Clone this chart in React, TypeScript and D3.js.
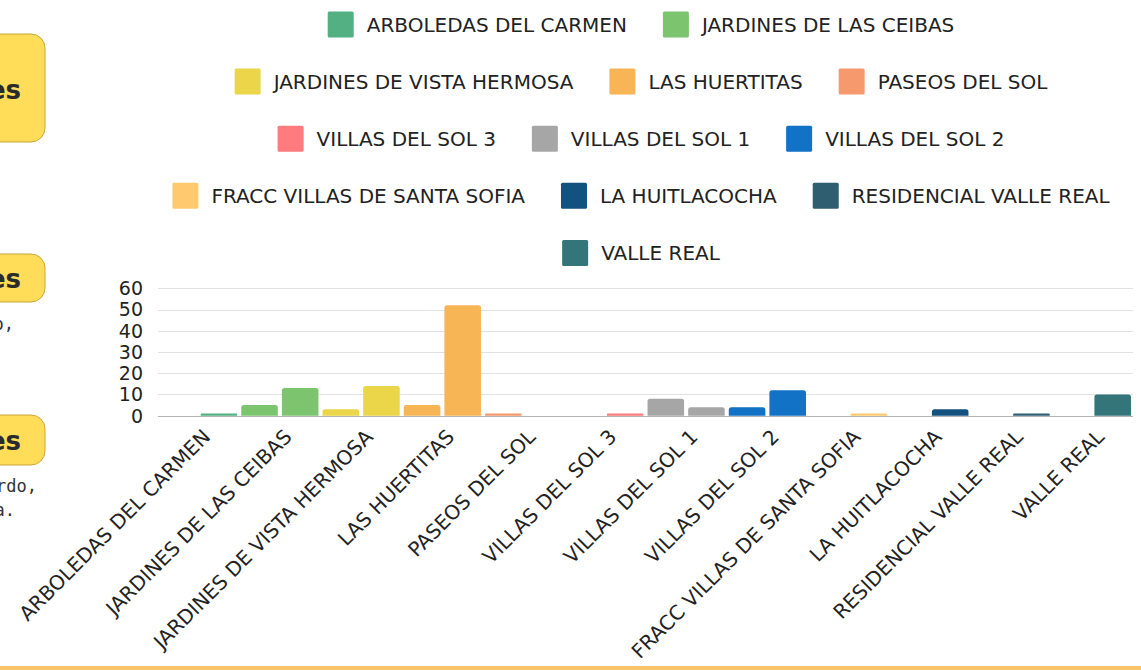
import React, { useMemo } from 'react';
import * as d3 from 'd3';

const categories = [
  'ARBOLEDAS DEL CARMEN',
  'JARDINES DE LAS CEIBAS',
  'JARDINES DE VISTA HERMOSA',
  'LAS HUERTITAS',
  'PASEOS DEL SOL',
  'VILLAS DEL SOL 3',
  'VILLAS DEL SOL 1',
  'VILLAS DEL SOL 2',
  'FRACC VILLAS DE SANTA SOFIA',
  'LA HUITLACOCHA',
  'RESIDENCIAL VALLE REAL',
  'VALLE REAL',
];

const colors = [
  '#52b083',
  '#7dc46f',
  '#ebd548',
  '#f7b556',
  '#f69a6d',
  '#ff7b7e',
  '#a6a6a6',
  '#1172c6',
  '#ffc96f',
  '#13527f',
  '#2f5e71',
  '#337578',
];

const seriesLeft = [0, 5, 3, 5, 1, 0, 8, 4, 0, 0, 0, 0];
const seriesRight = [1, 13, 14, 52, 0, 1, 4, 12, 1, 3, 1, 10];
const yTicks = [0, 10, 20, 30, 40, 50, 60];

const W = 1141;
const H = 670;
const FONT = "'DejaVu Sans', sans-serif";

function measure(text: string, font: string): number {
  const c = document.createElement('canvas');
  const ctx = c.getContext('2d');
  if (!ctx) return text.length * 12;
  ctx.font = font;
  return ctx.measureText(text).width;
}

function barPath(x: number, y: number, w: number, h: number, r: number) {
  const rr = Math.min(r, h / 2, w / 2);
  const p = d3.path();
  p.moveTo(x, y + h);
  p.lineTo(x, y + rr);
  p.arcTo(x, y, x + rr, y, rr);
  p.lineTo(x + w - rr, y);
  p.arcTo(x + w, y, x + w, y + rr, rr);
  p.lineTo(x + w, y + h);
  p.closePath();
  return p.toString();
}

export default function App() {
  const x = d3.scaleBand<string>().domain(categories).range([158, 1133]).paddingInner(0).paddingOuter(0);
  const sub = d3
    .scaleBand<string>()
    .domain(['left', 'right'])
    .range([0, x.bandwidth()])
    .paddingInner(0.1)
    .paddingOuter(0.05);
  const y = d3.scaleLinear().domain([0, 60]).range([415.7, 288.3]);

  const legendFontSize = 20;
  const legend = useMemo(() => {
    const box = 26;
    const textGap = 13;
    const itemGap = 36;
    const maxW = 980;
    const items = categories.map((c, i) => ({
      label: c,
      color: colors[i],
      w: box + textGap + measure(c, `${legendFontSize}px ${FONT}`),
    }));
    const rows: { label: string; color: string; w: number }[][] = [];
    let cur: { label: string; color: string; w: number }[] = [];
    let curW = 0;
    items.forEach((it) => {
      const add = cur.length ? itemGap + it.w : it.w;
      if (cur.length && curW + add > maxW) {
        rows.push(cur);
        cur = [it];
        curW = it.w;
      } else {
        cur.push(it);
        curW += add;
      }
    });
    if (cur.length) rows.push(cur);
    const out: { label: string; color: string; bx: number; cy: number }[] = [];
    rows.forEach((row, ri) => {
      const total = row.reduce((s, it) => s + it.w, 0) + itemGap * (row.length - 1);
      let cx = 641 - total / 2;
      const cy = 24.5 + ri * 57.1;
      row.forEach((it) => {
        out.push({ label: it.label, color: it.color, bx: cx, cy });
        cx += it.w + itemGap;
      });
    });
    return { out, box, textGap };
  }, []);

  const bars: { key: string; x: number; y: number; w: number; h: number; color: string }[] = [];
  categories.forEach((c, i) => {
    const base = x(c) as number;
    [
      ['left', seriesLeft[i]],
      ['right', seriesRight[i]],
    ].forEach(([s, v]) => {
      const val = v as number;
      if (val <= 0) return;
      const bx = base + (sub(s as string) as number);
      const top = y(val);
      bars.push({ key: c + s, x: bx, y: top, w: sub.bandwidth(), h: y(0) - top, color: colors[i] });
    });
  });

  return (
    <svg
      width={W}
      height={H}
      style={{ position: 'absolute', left: 0, top: 0, background: '#fff' }}
      fontFamily={FONT}
    >
      <rect x={0} y={0} width={W} height={H} fill="#ffffff" />

      {/* left side partial panel */}
      <rect x={-30} y={34} width={75} height={108} rx={14} fill="#ffdd59" stroke="#c9a73c" strokeWidth={1} />
      <text x={21} y={99} textAnchor="end" fontSize={26} fontWeight="bold" fill="#2b2b2b">es</text>
      <rect x={-30} y={254} width={75} height={48} rx={14} fill="#ffdd59" stroke="#c9a73c" strokeWidth={1} />
      <text x={21} y={288} textAnchor="end" fontSize={26} fontWeight="bold" fill="#2b2b2b">es</text>
      <text x={14} y={330} textAnchor="end" fontSize={17} fontFamily="'DejaVu Sans Mono', monospace" fill="#333">o,</text>
      <rect x={-30} y={415} width={75} height={50} rx={14} fill="#ffdd59" stroke="#c9a73c" strokeWidth={1} />
      <text x={21} y={450} textAnchor="end" fontSize={26} fontWeight="bold" fill="#2b2b2b">es</text>
      <text x={37} y={492} textAnchor="end" fontSize={17} fontFamily="'DejaVu Sans Mono', monospace" fill="#333">rdo,</text>
      <text x={15} y={516} textAnchor="end" fontSize={17} fontFamily="'DejaVu Sans Mono', monospace" fill="#333">a.</text>

      {/* legend */}
      {legend.out.map((it) => (
        <g key={it.label}>
          <rect x={it.bx} y={it.cy - 13} width={legend.box} height={legend.box} rx={1.5} fill={it.color} />
          <text
            x={it.bx + legend.box + legend.textGap}
            y={it.cy + 7}
            fontSize={legendFontSize}
            fill="#222"
          >
            {it.label}
          </text>
        </g>
      ))}

      {/* gridlines */}
      {yTicks.map((t) => (
        <line
          key={t}
          x1={158}
          x2={1133}
          y1={Math.round(y(t)) + 0.5}
          y2={Math.round(y(t)) + 0.5}
          stroke={t === 0 ? '#b4b4b4' : '#e2e2e2'}
          strokeWidth={1}
        />
      ))}
      {yTicks.map((t) => (
        <text key={'l' + t} x={143} y={y(t)} dy="0.36em" textAnchor="end" fontSize={19} fill="#222">
          {t}
        </text>
      ))}

      {/* bars */}
      {bars.map((b) => (
        <path key={b.key} d={barPath(b.x, b.y, b.w, b.h, 2.5)} fill={b.color} />
      ))}

      {/* x labels */}
      {categories.map((c) => {
        const cx = (x(c) as number) + x.bandwidth() / 2;
        return (
          <text
            key={'x' + c}
            transform={`translate(${cx + 13},${438}) rotate(-45)`}
            textAnchor="end"
            fontSize={20}
            fill="#222"
          >
            {c}
          </text>
        );
      })}

      {/* bottom line */}
      <rect x={0} y={666} width={W} height={4} fill="#fbc468" />
    </svg>
  );
}
